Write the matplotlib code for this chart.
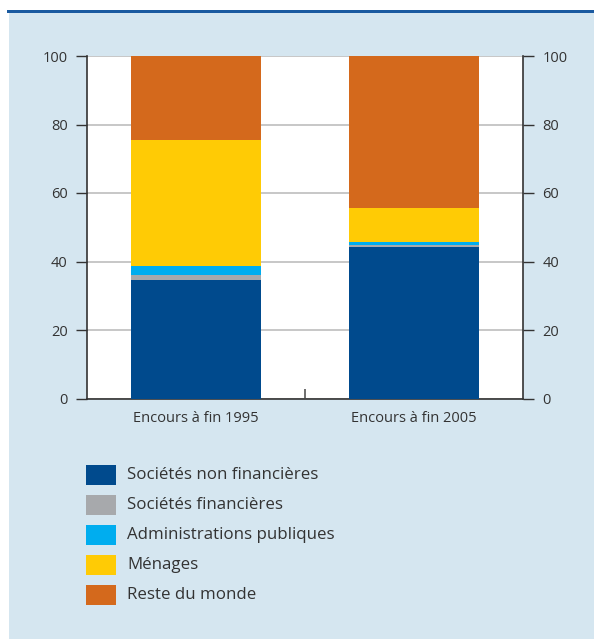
import numpy as np
import matplotlib.pyplot as plt
from matplotlib.patches import Rectangle

plt.rcParams['font.family'] = ['Open Sans', 'DejaVu Sans']

categories = ['Encours à fin 1995', 'Encours à fin 2005']
series = ['Sociétés non financières', 'Sociétés financières',
          'Administrations publiques', 'Ménages', 'Reste du monde']
snf = [34.6, 44.2]
sf = [1.4, 0.7]
apu = [2.7, 0.9]
menages = [36.8, 9.7]
rdm = [24.5, 44.5]
values = [snf, sf, apu, menages, rdm]
colors = ['#004a8d', '#a7a9ac', '#00adef', '#ffcb05', '#d4691c']

bg = '#d5e6f0'
fig = plt.figure(figsize=(5.94, 6.39), dpi=100)
fig.patch.set_facecolor('white')
# panel background and top rule
fig.add_artist(Rectangle((9 / 594, 0), 1, 1 - 12 / 639, transform=fig.transFigure,
                         facecolor=bg, edgecolor='none', zorder=-10))
fig.add_artist(Rectangle((7 / 594, 1 - 12.5 / 639), 1, 3 / 639, transform=fig.transFigure,
                         facecolor='#1a5aa0', edgecolor='none', zorder=-9))

ax = fig.add_axes([87 / 594, 1 - 398.5 / 639, 436 / 594, 342.5 / 639])
ax.set_facecolor('white')
x = np.arange(len(categories))
bottom = np.zeros(len(categories))
for name, vals, c in zip(series, values, colors):
    ax.bar(x, vals, width=0.6, bottom=bottom, color=c, label=name,
           linewidth=0, zorder=3)
    bottom += np.array(vals)

ax.set_xlim(-0.5, 1.5)
ax.set_ylim(0, 100)
ax.set_yticks(range(0, 101, 20))
ax.yaxis.grid(True, color='#bdbdbd', linewidth=1.2, zorder=0)
ax.set_axisbelow(True)
ax.set_xticks(x)
ax.set_xticklabels(categories, fontsize=10.5, color='#333333')
ax.tick_params(axis='x', length=0, pad=9)
ax.set_xticks([0.5], minor=True)
ax.tick_params(axis='x', which='minor', direction='in', length=7, width=1.2, color='#555555')
ax.tick_params(axis='y', direction='out', length=8, width=1, color='#333333',
               labelsize=10.5, labelcolor='#333333', right=True, labelright=True, pad=6)
for s in ax.spines.values():
    s.set_color('#333333')
    s.set_linewidth(1.2)
ax.spines['top'].set_visible(False)

# legend
for i, (name, c) in enumerate(zip(series, colors)):
    yc = 475 + 30 * i
    fig.add_artist(Rectangle((86 / 594, 1 - (yc + 10) / 639), 30 / 594, 20 / 639,
                             transform=fig.transFigure, facecolor=c, edgecolor='none'))
    fig.text(127 / 594, 1 - yc / 639, name, fontsize=12.2, color='#333333',
             va='center', ha='left')

fig.savefig('out.png', dpi=100, facecolor=fig.get_facecolor())
